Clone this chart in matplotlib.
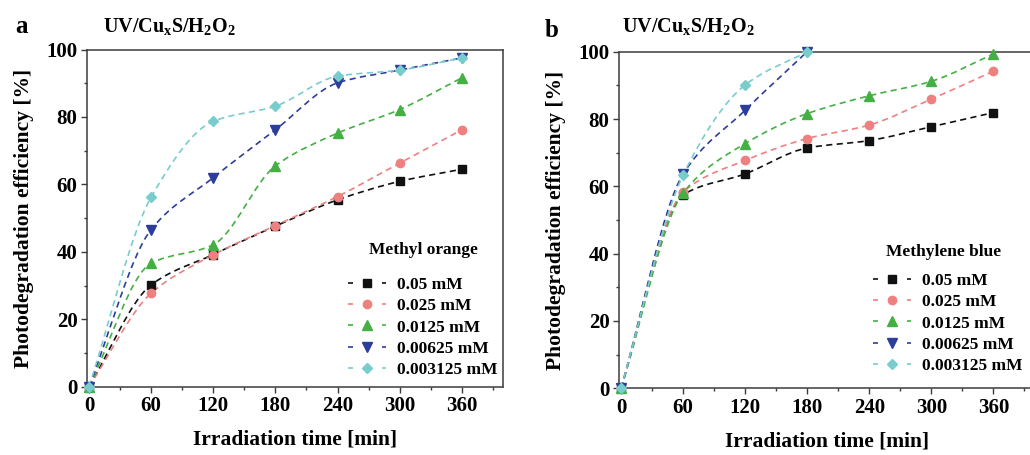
import numpy as np
import matplotlib
matplotlib.use("Agg")
import matplotlib.pyplot as plt
from matplotlib.path import Path
from matplotlib.patches import PathPatch
from matplotlib.lines import Line2D
from matplotlib.ticker import MultipleLocator

plt.rcParams["font.family"] = ["Liberation Serif", "DejaVu Serif"]
plt.rcParams["font.weight"] = "bold"
plt.rcParams["mathtext.fontset"] = "custom"
plt.rcParams["mathtext.rm"] = "Liberation Serif:bold"
plt.rcParams["mathtext.it"] = "Liberation Serif:bold"
plt.rcParams["mathtext.bf"] = "Liberation Serif:bold"

# Irradiation times [min]
time_full = [0, 60, 120, 180, 240, 300, 360]
time_short = [0, 60, 120, 180]

concentrations = ["0.05 mM", "0.025 mM", "0.0125 mM", "0.00625 mM", "0.003125 mM"]

# Methyl orange photodegradation efficiency [%]
mo_005 = [0, 30.2, 39.2, 47.6, 55.4, 60.9, 64.5]
mo_0025 = [0, 27.7, 39.1, 47.8, 56.4, 66.3, 76.2]
mo_00125 = [0, 36.6, 42.1, 65.5, 75.2, 82.2, 91.6]
mo_000625 = [0, 46.6, 62.0, 76.2, 90.1, 93.9, 97.5]
mo_0003125 = [0, 56.2, 78.7, 83.2, 92.1, 93.9, 97.5]

# Methylene blue photodegradation efficiency [%]
mb_005 = [0, 57.5, 63.7, 71.4, 73.6, 77.7, 81.9]
mb_0025 = [0, 58.3, 67.7, 74.2, 78.2, 85.9, 94.2]
mb_00125 = [0, 58.0, 72.7, 81.6, 86.9, 91.2, 99.3]
mb_000625 = [0, 63.6, 82.6, 100.0]
mb_0003125 = [0, 63.3, 90.1, 100.0]

colors = ["#111111", "#ee8080", "#44b044", "#2d3e9a", "#79cccc"]
markers = ["s", "o", "^", "v", "D"]
msizes = [5.5, 6.0, 6.5, 6.5, 5.0]

W, H = 1030, 455
fig = plt.figure(figsize=(W / 100, H / 100), dpi=100)


def px_axes(left, top, right, bottom):
    return fig.add_axes([left / W, 1 - bottom / H, (right - left) / W, (bottom - top) / H])


def smooth_path(x, y):
    """Monotone (Fritsch-Carlson) cubic through the points, as Bezier segments."""
    x = np.asarray(x, float)
    y = np.asarray(y, float)
    h = np.diff(x)
    d = np.diff(y) / h
    n = len(x)
    m = np.zeros(n)
    m[0] = d[0]
    m[-1] = d[-1]
    for i in range(1, n - 1):
        if d[i - 1] * d[i] <= 0:
            m[i] = 0.0
        else:
            w1 = 2 * h[i] + h[i - 1]
            w2 = h[i] + 2 * h[i - 1]
            m[i] = (w1 + w2) / (w1 / d[i - 1] + w2 / d[i])
    verts = [(x[0], y[0])]
    codes = [Path.MOVETO]
    for i in range(n - 1):
        verts += [(x[i] + h[i] / 3, y[i] + m[i] * h[i] / 3),
                  (x[i + 1] - h[i] / 3, y[i + 1] - m[i + 1] * h[i] / 3),
                  (x[i + 1], y[i + 1])]
        codes += [Path.CURVE4] * 3
    return Path(verts, codes)


def draw_panel(ax, series, legend_title, leg_anchor, title_xy):
    for (x, y), c, m, ms in zip(series, colors, markers, msizes):
        ax.add_patch(PathPatch(smooth_path(x, y), fill=False, edgecolor=c,
                               lw=1.2, linestyle=(0, (3.7, 2.6)), zorder=2))
        ax.plot(x, y, linestyle="none", marker=m, ms=ms, color=c,
                mec=c, zorder=3, clip_on=False)
    ax.set_xlim(-1.6, 400)
    ax.set_ylim(0, 100)
    ax.xaxis.set_major_locator(MultipleLocator(60))
    ax.xaxis.set_minor_locator(MultipleLocator(30))
    ax.yaxis.set_major_locator(MultipleLocator(20))
    ax.yaxis.set_minor_locator(MultipleLocator(10))
    ax.tick_params(which="both", direction="out", top=False, right=False,
                   color="#3c3c3c", width=1.0, labelsize=15, pad=3)
    ax.tick_params(which="major", length=4)
    ax.tick_params(which="minor", length=2.5)
    for lbl in ax.get_xticklabels() + ax.get_yticklabels():
        lbl.set_fontweight("bold")
    for s in ax.spines.values():
        s.set_color("#3c3c3c")
        s.set_linewidth(1.1)
    ax.set_xlabel("Irradiation time [min]", fontsize=15.5, fontweight="bold")
    ax.set_ylabel("Photodegradation efficiency [%]", fontsize=15.5, fontweight="bold")
    ax.xaxis.set_label_coords(0.5, -0.128)
    ax.yaxis.set_label_coords(-0.128, 0.5)

    handles = [Line2D([], [], color=c, lw=1.2, linestyle=(0, (3.0, 7.2)),
                      marker=m, ms=ms, mec=c)
               for c, m, ms in zip(colors, markers, msizes)]
    hx, hy = leg_anchor
    ax.legend(handles, concentrations, loc="upper left",
              bbox_to_anchor=(hx / W, 1 - hy / H), bbox_transform=fig.transFigure,
              frameon=False, borderpad=0, borderaxespad=0, handlelength=2.2,
              handletextpad=0.6, labelspacing=0.29,
              prop={"family": "Liberation Serif", "weight": "bold", "size": 12.5})
    tx, ty = title_xy
    fig.text(tx / W, 1 - ty / H, legend_title, ha="center", va="center",
             fontsize=12.5, fontweight="bold")


ax_a = px_axes(87.3, 49.5, 503.3, 386.7)
draw_panel(ax_a,
           [(time_full, mo_005), (time_full, mo_0025), (time_full, mo_00125),
            (time_full, mo_000625), (time_full, mo_0003125)],
           "Methyl orange", (348, 277), (423, 250))

ax_b = px_axes(619.3, 51.7, 1034.7, 388.3)
draw_panel(ax_b,
           [(time_full, mb_005), (time_full, mb_0025), (time_full, mb_00125),
            (time_short, mb_000625), (time_short, mb_0003125)],
           "Methylene blue", (873, 273), (944, 252))

title = r"UV/Cu$_{\mathrm{x}}$S/H$_{\mathrm{2}}$O$_{\mathrm{2}}$"
fig.text(15 / W, 1 - 33 / H, "a", fontsize=18, fontweight="bold", va="baseline")
fig.text(103 / W, 1 - 32 / H, title, fontsize=14.5, va="baseline")
fig.text(545 / W, 1 - 37 / H, "b", fontsize=18, fontweight="bold", va="baseline")
fig.text(622 / W, 1 - 32 / H, title, fontsize=14.5, va="baseline")

fig.savefig("out.png", dpi=100)
